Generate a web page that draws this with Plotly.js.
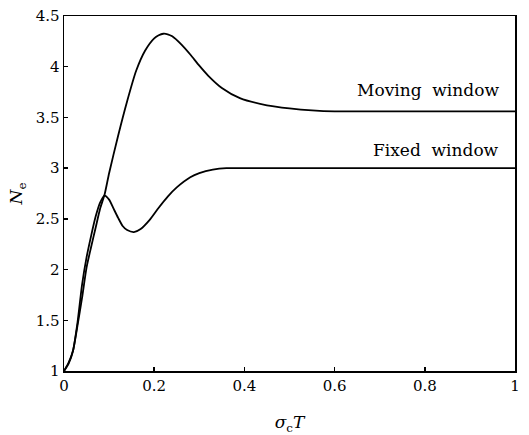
<!DOCTYPE html>
<html>
<head>
<meta charset="utf-8">
<script src="https://cdn.plot.ly/plotly-3.0.1.min.js"></script>
<style>html,body{margin:0;padding:0;background:#fff;}#chart{width:529px;height:435px;}</style>
</head>
<body>
<div id="chart"></div>
<script>
const movingX = [0, 0.01, 0.02, 0.03, 0.04, 0.05, 0.06, 0.07, 0.08, 0.09, 0.1, 0.12, 0.14, 0.16, 0.18, 0.2, 0.21, 0.22, 0.23, 0.24, 0.26, 0.28, 0.3, 0.32, 0.35, 0.39, 0.45, 0.5, 0.55, 0.6, 0.7, 0.8, 0.9, 1.0];
const movingY = [1, 1.08, 1.2, 1.45, 1.72, 2.02, 2.22, 2.41, 2.6, 2.74, 2.95, 3.32, 3.66, 3.96, 4.16, 4.28, 4.31, 4.325, 4.32, 4.3, 4.22, 4.12, 4.01, 3.91, 3.79, 3.69, 3.62, 3.59, 3.57, 3.56, 3.56, 3.56, 3.56, 3.56];
const fixedX = [0, 0.01, 0.02, 0.03, 0.04, 0.05, 0.06, 0.07, 0.08, 0.09, 0.1, 0.11, 0.12, 0.13, 0.14, 0.155, 0.17, 0.19, 0.21, 0.23, 0.25, 0.28, 0.3, 0.33, 0.36, 0.4, 0.5, 0.6, 0.7, 0.8, 0.9, 1.0];
const fixedY = [1, 1.07, 1.2, 1.48, 1.85, 2.12, 2.33, 2.52, 2.66, 2.73, 2.69, 2.6, 2.51, 2.43, 2.39, 2.37, 2.4, 2.49, 2.61, 2.72, 2.81, 2.91, 2.95, 2.985, 3.0, 3.0, 3.0, 3.0, 3.0, 3.0, 3.0, 3.0];
const xTicks = [0, 0.2, 0.4, 0.6, 0.8, 1];
const xTickText = ['0', '0.2', '0.4', '0.6', '0.8', '1'];
const yTicks = [1, 1.5, 2, 2.5, 3, 3.5, 4, 4.5];
const yTickText = ['1', '1.5', '2', '2.5', '3', '3.5', '4', '4.5'];
const labels = ['Moving&nbsp; window', 'Fixed&nbsp; window'];

const font = 'DejaVu Serif';
const lineStyle = {color: '#000', width: 1.8, shape: 'spline', smoothing: 0.6};

const traces = [
  {x: movingX, y: movingY, mode: 'lines', line: lineStyle, name: 'Moving window', hoverinfo: 'skip'},
  {x: fixedX, y: fixedY, mode: 'lines', line: lineStyle, name: 'Fixed window', hoverinfo: 'skip'}
];

const layout = {
  width: 529, height: 435,
  margin: {l: 64, r: 14, t: 16, b: 64},
  paper_bgcolor: '#fff', plot_bgcolor: '#fff',
  showlegend: false,
  font: {family: font, size: 15, color: '#000'},
  xaxis: {
    range: [0, 1], tickvals: xTicks, ticktext: xTickText,
    showgrid: false, zeroline: false, showline: true, linecolor: '#000', linewidth: 1.5, mirror: true,
    ticks: 'inside', ticklen: 4, tickwidth: 1.5, tickcolor: '#000',
    tickfont: {family: font, size: 15, color: '#000'},
    title: {text: '<i>σ</i><sub>c</sub><i>T</i>', font: {family: font, size: 17, color: '#000'}, standoff: 24}
  },
  yaxis: {
    range: [1, 4.5], tickvals: yTicks, ticktext: yTickText,
    showgrid: false, zeroline: false, showline: true, linecolor: '#000', linewidth: 1.5, mirror: true,
    ticks: 'inside', ticklen: 4, tickwidth: 1.5, tickcolor: '#000',
    tickfont: {family: font, size: 15, color: '#000'},
    title: {text: '<i>N</i><sub>e</sub>', font: {family: font, size: 17, color: '#000'}, standoff: 8}
  },
  annotations: [
    {x: 0.97, y: 3.77, xref: 'x', yref: 'y', text: labels[0], showarrow: false, xanchor: 'right', yanchor: 'middle', font: {family: font, size: 17, color: '#000'}},
    {x: 0.97, y: 3.18, xref: 'x', yref: 'y', text: labels[1], showarrow: false, xanchor: 'right', yanchor: 'middle', font: {family: font, size: 17, color: '#000'}}
  ]
};

Plotly.newPlot('chart', traces, layout, {staticPlot: true, displayModeBar: false});
</script>
</body>
</html>
